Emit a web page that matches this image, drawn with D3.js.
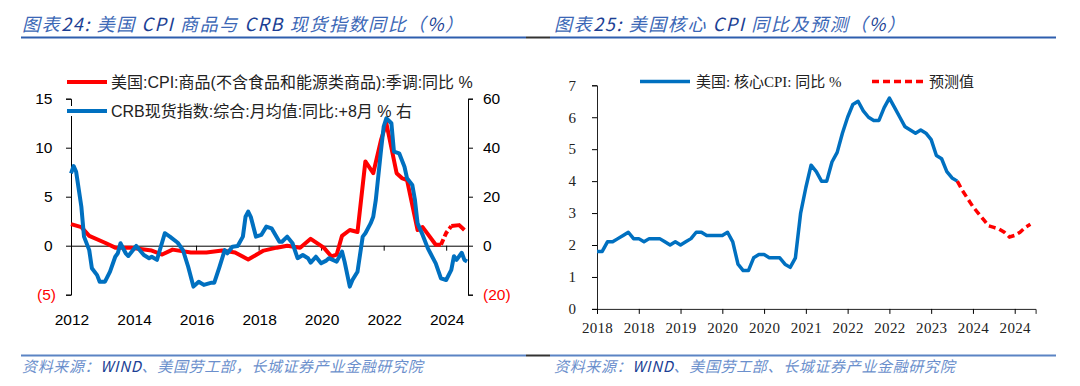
<!DOCTYPE html>
<html>
<head>
<meta charset="utf-8">
<script src="https://cdn.jsdelivr.net/npm/d3@7"></script>
<style>
  body { margin: 0; background: #fff; }
  svg { display: block; }
</style>
</head>
<body>
<svg id="chart" width="1080" height="386"></svg>
<script>
// ---- left panel data ----
const goodsDates = ['2012-01','2012-05','2012-08','2013-02','2013-06','2013-12','2014-08','2014-12','2015-04','2015-11',
  '2016-05','2016-11','2017-04','2017-09','2018-03','2018-08','2018-12','2019-05','2019-09','2020-02',
  '2020-05','2020-07','2020-09','2020-12','2021-03','2021-06','2021-09','2021-12','2022-02','2022-06',
  '2022-08','2022-10','2023-02','2023-04','2023-09','2023-11','2024-01','2024-03','2024-06','2024-08'];
const goodsValues = [2.2,1.9,1.0,0.3,-0.2,-0.2,-0.5,-0.9,-0.4,-0.7,
  -0.7,-0.5,-0.7,-1.4,-0.5,-0.2,0,-0.2,0.7,-0.2,
  -1.1,-0.9,1.0,1.6,1.4,8.6,7.4,10.8,12.5,7.4,
  6.9,6.7,1.6,1.9,0.1,0.1,1.3,2.0,2.1,1.6];
// the red line breaks up into dashes over this stretch
const goodsGap = ['2023-11', '2024-03'];

const crbDates = ['2012-01','2012-02','2012-03','2012-05','2012-06','2012-08','2012-09','2012-11','2012-12','2013-02',
  '2013-04','2013-06','2013-07','2013-08','2013-10','2013-11','2014-02','2014-05','2014-07','2014-08',
  '2014-10','2015-01','2015-03','2015-06','2015-08','2015-10','2015-12','2016-02','2016-04','2016-07',
  '2016-08','2016-10','2016-12','2017-01','2017-03','2017-05','2017-07','2017-08','2017-09','2017-10',
  '2017-12','2018-02','2018-04','2018-06','2018-09','2018-10','2018-12','2019-02','2019-04','2019-06',
  '2019-08','2019-09','2019-11','2020-01','2020-03','2020-04','2020-07','2020-09','2020-10','2020-12',
  '2021-01','2021-03','2021-05','2021-06','2021-08','2021-09','2021-10','2021-12','2022-01','2022-02',
  '2022-04','2022-05','2022-07','2022-09','2022-10','2022-12','2023-01','2023-02','2023-04','2023-06',
  '2023-07','2023-09','2023-11','2024-01','2024-03','2024-04','2024-05','2024-07','2024-08','2024-09'];
const crbValues = [29.5,32.5,30.2,15.9,3.7,-1.8,-9.2,-12,-14.7,-14.7,
  -10.6,-4.5,-3.1,1,-3.1,-4.2,-0.1,-3.8,-5.1,-4.5,
  -5.8,5.1,3.7,1.2,-1.8,-8.6,-16.7,-14.7,-16,-15.1,
  -15.1,-8.6,-1.8,-3.1,-0.4,-0.1,3.7,11.8,13.9,11.8,
  3.7,4.4,7.8,7.1,1.6,1.6,3.7,1,-5.1,-3.8,
  -5.1,-6.9,-4.5,-7.2,-6.1,-5.1,-6.5,-2.4,-6.5,-16.7,
  -14,-10.6,3.7,5.1,9.1,11.8,18.7,39,48.6,52,
  50,38.4,37.7,32.2,27.5,24.8,18.7,9.1,4.4,-1.1,
  -3.1,-7.2,-13.3,-14,-9.9,-4.3,-5.8,-2.9,-5.8,-6.4];

const leftTicks = [15, 10, 5, 0, -5];
const rightTicks = [60, 40, 20, 0, -20];
const yearTicks = [2012, 2014, 2016, 2018, 2020, 2022, 2024];

// ---- right panel data: core CPI yoy from 2018-01, forecast from 2023-10 ----
const coreStart = '2018-01';
const coreValues = [1.8,1.8,2.1,2.1,2.2,2.3,2.4,2.2,2.2,2.1,2.2,2.2,
  2.2,2.1,2.0,2.1,2.0,2.1,2.2,2.4,2.4,2.3,2.3,2.3,
  2.3,2.4,2.1,1.4,1.2,1.2,1.6,1.7,1.7,1.6,1.6,1.6,
  1.4,1.3,1.6,3.0,3.8,4.5,4.3,4.0,4.0,4.6,4.9,5.5,
  6.0,6.4,6.5,6.2,6.0,5.9,5.9,6.3,6.6,6.3,6.0,5.7,
  5.6,5.5,5.6,5.5,5.3,4.8,4.7,4.3,4.1,4.0];
const forecastStart = '2023-10';
const forecastValues = [4.0,3.7,3.45,3.2,3.0,2.8,2.6,2.55,2.5,2.4,2.25,2.3,2.4,2.55,2.65];
const coreTickLabels = ['2018','2018','2019','2020','2020','2021','2022','2022','2023','2024','2024'];
const coreYTicks = [0,1,2,3,4,5,6,7];

const red = '#ff0000';
const blue = '#0070c0';
const titleLight = '#3b67b6';
const titleDark = '#1c3f94';
const sansFont = '"Liberation Sans", Arial, "Noto Sans CJK SC", sans-serif';
const cjkFont = '"Noto Sans CJK SC", "Liberation Sans", sans-serif';
const serifFont = '"Liberation Serif", "Times New Roman", "Noto Sans CJK SC", serif';

const parseMonth = d3.timeParse('%Y-%m');
const svg = d3.select('#chart');

// ---------- headers, rules and sources ----------
function header(x, parts) {
  const t = svg.append('text')
    .attr('x', x).attr('y', 31)
    .style('font-family', cjkFont)
    .style('font-size', '18px')
    .style('letter-spacing', '1.6px')
    .style('font-style', 'italic');
  parts.forEach(function (p) {
    t.append('tspan').text(p[0]).attr('fill', p[1] ? titleDark : titleLight);
  });
}
header(22, [['图表', 0], ['24:', 1], ['  美国 ', 0], ['CPI', 1], [' 商品与 ', 0], ['CRB', 1], [' 现货指数同比（', 0], ['%', 1], ['）', 0]]);
header(554, [['图表', 0], ['25:', 1], ['  美国核心 ', 0], ['CPI', 1], [' 同比及预测（', 0], ['%', 1], ['）', 0]]);

function rules(y, color) {
  svg.append('line').attr('x1', 21).attr('x2', 526).attr('y1', y).attr('y2', y).attr('stroke', color).attr('stroke-width', 2);
  svg.append('line').attr('x1', 526).attr('x2', 550).attr('y1', y).attr('y2', y).attr('stroke', '#333').attr('stroke-width', 2);
  svg.append('line').attr('x1', 550).attr('x2', 1056).attr('y1', y).attr('y2', y).attr('stroke', color).attr('stroke-width', 2);
}
rules(37.5, '#2e5eae');
rules(355.5, '#5b84c4');

function source(x, sep) {
  const t = svg.append('text')
    .attr('x', x).attr('y', 372)
    .style('font-family', cjkFont)
    .style('font-size', '15px')
    .style('letter-spacing', '0.65px')
    .style('font-style', 'italic');
  t.append('tspan').text('资料来源：').attr('fill', '#6b8fcc');
  t.append('tspan').text('WIND').attr('fill', titleDark);
  t.append('tspan').text('、美国劳工部' + sep + '长城证券产业金融研究院').attr('fill', '#6b8fcc');
}
source(22, '，');
source(554, '、');

// ---------- left panel ----------
const x1 = d3.scaleTime()
  .domain([new Date(2012, 0, 1), new Date(2024, 8, 12)])
  .range([71, 468]);
const yL = d3.scaleLinear().domain([-5, 15]).range([294.7, 98.7]);
const yR = d3.scaleLinear().domain([-20, 60]).range([294.7, 98.7]);

const left = svg.append('g');
const paren = d => d < 0 ? '(' + (-d) + ')' : d;

// left & right value axes (positives leave room for the ")" like Excel does)
left.append('g')
  .attr('transform', 'translate(71,0)')
  .call(d3.axisLeft(yL).tickValues(leftTicks).tickSize(5).tickPadding(10).tickFormat(paren))
  .call(g => g.select('.domain').attr('stroke', '#000'))
  .call(g => g.selectAll('text')
    .attr('fill', d => d < 0 ? red : '#000')
    .attr('dx', d => d < 0 ? 0 : -3.5));

left.append('g')
  .attr('transform', 'translate(468,0)')
  .call(d3.axisRight(yR).tickValues(rightTicks).tickSize(5).tickPadding(10).tickFormat(paren))
  .call(g => g.select('.domain').attr('stroke', '#000'))
  .call(g => g.selectAll('text').attr('fill', d => d < 0 ? red : '#000'));

// time axis sits on zero, labels go under the plot
left.append('g')
  .attr('transform', 'translate(0,' + yL(0) + ')')
  .call(d3.axisBottom(x1).tickValues(yearTicks.map(y => new Date(y, 0, 1))).tickSize(5).tickFormat(''))
  .call(g => g.select('.domain').attr('stroke', '#000'));

left.selectAll('.year')
  .data(yearTicks)
  .enter()
  .append('text')
  .attr('x', d => x1(new Date(d, 0, 1)) + 1)
  .attr('y', 325)
  .attr('text-anchor', 'middle')
  .text(d => d);

left.selectAll('text')
  .style('font-family', sansFont)
  .style('font-size', '15.5px');

const goods = goodsDates.map((d, i) => ({ t: parseMonth(d), v: goodsValues[i] }));
const crb = crbDates.map((d, i) => ({ t: parseMonth(d), v: crbValues[i] }));
const gapA = parseMonth(goodsGap[0]);
const gapB = parseMonth(goodsGap[1]);

const goodsLine = d3.line().x(d => x1(d.t)).y(d => yL(d.v));
const goodsParts = [
  { pts: goods.filter(d => d.t <= gapA), dash: null },
  { pts: goods.filter(d => d.t >= gapA && d.t <= gapB), dash: '6,3' },
  { pts: goods.filter(d => d.t >= gapB), dash: null }
];

left.selectAll('.goods')
  .data(goodsParts)
  .enter()
  .append('path')
  .attr('fill', 'none')
  .attr('stroke', red)
  .attr('stroke-width', 4)
  .attr('stroke-linejoin', 'round')
  .attr('stroke-dasharray', d => d.dash)
  .attr('d', d => goodsLine(d.pts));

left.append('path')
  .datum(crb)
  .attr('fill', 'none')
  .attr('stroke', blue)
  .attr('stroke-width', 4)
  .attr('stroke-linejoin', 'round')
  .attr('d', d3.line().x(d => x1(d.t)).y(d => yR(d.v)));

// legend
const legL = [
  { label: '美国:CPI:商品(不含食品和能源类商品):季调:同比 %', color: red, y: 82 },
  { label: 'CRB现货指数:综合:月均值:同比:+8月 % 右', color: blue, y: 111 }
];
legL.forEach(function (d) {
  left.append('rect').attr('x', 67).attr('y', d.y - 5).attr('width', 40).attr('height', 10).attr('fill', '#fff');
  left.append('line')
    .attr('x1', 67).attr('x2', 107).attr('y1', d.y).attr('y2', d.y)
    .attr('stroke', d.color).attr('stroke-width', 4);
  left.append('text')
    .attr('x', 111).attr('y', d.y + 5.5)
    .style('font-family', sansFont)
    .style('font-size', '16px')
    .attr('fill', '#222')
    .text(d.label);
});

// ---------- right panel ----------
const x2 = d3.scaleLinear().domain([0, 84]).range([597, 1035.6]);
const y2 = d3.scaleLinear().domain([0, 7]).range([308.9, 85.3]);
const monthIndex = s => { const t = parseMonth(s); return (t.getFullYear() - 2018) * 12 + t.getMonth(); };

const right = svg.append('g');

right.append('g')
  .attr('transform', 'translate(597,0)')
  .call(d3.axisLeft(y2).tickValues(coreYTicks).tickSize(5).tickPadding(16).tickFormat(d3.format('d')))
  .call(g => g.select('.domain').attr('stroke', '#222'))
  .call(g => g.selectAll('text').style('font-size', '15px'));

right.append('g')
  .attr('transform', 'translate(0,308.9)')
  .call(d3.axisBottom(x2).tickValues(d3.range(0, 81, 8)).tickSize(5).tickPadding(8)
    .tickFormat((d, i) => coreTickLabels[i]))
  .call(g => g.select('.domain').attr('stroke', '#222'))
  .call(g => g.selectAll('text').style('font-size', '15px').style('letter-spacing', '0.3px'));

right.selectAll('text')
  .style('font-family', serifFont)
  .attr('fill', '#222');

const c0 = monthIndex(coreStart);
const f0 = monthIndex(forecastStart);

right.append('path')
  .datum(coreValues)
  .attr('fill', 'none')
  .attr('stroke', blue)
  .attr('stroke-width', 3.5)
  .attr('stroke-linejoin', 'round')
  .attr('d', d3.line().x((d, i) => x2(c0 + i)).y(d => y2(d)));

right.append('path')
  .datum(forecastValues)
  .attr('fill', 'none')
  .attr('stroke', red)
  .attr('stroke-width', 3.5)
  .attr('stroke-dasharray', '7,4')
  .attr('d', d3.line().x((d, i) => x2(f0 + i)).y(d => y2(d)));

// legend
right.append('line').attr('x1', 640).attr('x2', 690).attr('y1', 81.5).attr('y2', 81.5)
  .attr('stroke', blue).attr('stroke-width', 3.5);
right.append('text').attr('x', 696).attr('y', 86.5)
  .style('font-family', serifFont).style('font-size', '15px').attr('fill', '#222')
  .text('美国: 核心CPI: 同比 %');
right.append('line').attr('x1', 872).attr('x2', 924).attr('y1', 81.5).attr('y2', 81.5)
  .attr('stroke', red).attr('stroke-width', 3.5).attr('stroke-dasharray', '7,4');
right.append('text').attr('x', 929).attr('y', 86.5)
  .style('font-family', serifFont).style('font-size', '15px').attr('fill', '#222')
  .text('预测值');
</script>
</body>
</html>
